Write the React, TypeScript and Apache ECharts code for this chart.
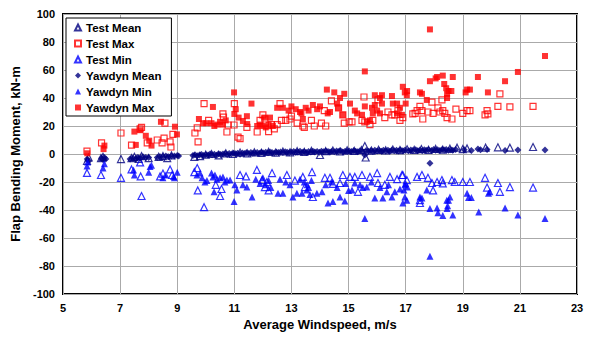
import React, { useEffect, useRef } from "react";
import * as echarts from "echarts";

const xTicks = [5, 7, 9, 11, 13, 15, 17, 19, 21, 23];
const X_OFFSET = 5;

const testMean: number[][] = [
  [5.84,-5],[5.9,-2.5],[6.33,-3],[6.4,-2],[7.03,-3.6],[7.4,-3],[7.5,-2],[7.65,-3.5],[7.75,-1.5],[8.0,-3],[8.35,-2],[8.5,-1.5],[8.65,-3],[8.8,-1],
  [9.6,-2],[9.8,-1.5],[10.0,-0.5],[10.2,0],[10.45,-1],[10.7,0.5],[10.95,0],[11.2,1],[11.45,0.5],[11.7,1.2],[11.95,0.8],[12.2,1.5],[12.45,1],[12.7,1.8],
  [12.95,1.2],[13.2,2],[13.45,1.5],[13.7,2.2],[14.0,-0.7],[14.2,2],[14.45,2.5],[14.7,1.8],[14.95,2.6],[15.2,2.2],[15.45,2.8],[15.57,5.7],[15.6,-2.5],
  [15.8,2.4],[16.05,3],[16.3,2.6],[16.55,3.2],[16.8,2.8],[17.05,3.4],[17.3,2.9],[17.55,3.5],[17.8,3],[18.05,3.6],[18.3,3.1],[18.55,3.8],
  [18.8,4.5],[19.0,3.5],[19.15,4],[19.8,4.5],[20.23,4.8],[20.65,4.5],[21.46,5]
];

const testMax: number[][] = [
  [5.84,2],[6.35,8],[7.03,15],[7.4,6.4],[7.7,18],[7.75,19],[7.95,8],[8.3,10],[8.47,8],[8.54,11.4],[8.57,22],[8.75,8.6],[8.78,5],[8.85,14],
  [9.62,15],[9.7,18.6],[9.73,8.6],[9.94,36],[10.1,24],[10.6,28.6],[10.62,26.4],[10.74,15.7],[10.78,20.7],[10.99,20.7],[11.0,36],[11.13,12],
  [11.2,11],[11.44,19],[11.8,15.7],[11.9,24],[12.0,28],[12.07,25],[12.2,16],[12.3,21],[12.4,18],[12.5,21],[12.6,36],[12.65,24],[12.8,24],
  [12.95,25],[13.0,27],[13.2,22],[13.4,20],[13.45,19],[13.7,24],[13.8,20],[14.05,22],[14.15,31],[14.2,20],[14.4,38],[14.65,33],[14.8,28],
  [14.85,22],[15.02,23],[15.12,23],[15.47,24],[15.54,40.7],[15.57,23],[15.75,21],[15.85,24],[16.03,38.6],[16.27,26],[16.38,30],[16.52,28],
  [16.62,28],[16.73,31],[16.8,24],[16.9,26],[17.25,28.6],[17.33,29],[17.4,31],[17.5,34],[17.57,31],[17.6,25],[17.78,30],[17.92,37],[17.96,29],
  [18.13,33],[18.2,30],[18.27,38.6],[18.3,31],[18.37,29],[18.45,26],[18.62,25],[18.76,32],[19.0,29],[19.15,31],[19.25,31],[19.78,28],
  [19.85,31],[19.88,28.6],[20.23,34],[20.3,43],[20.65,33.6],[21.46,34]
];

const testMin: number[][] = [
  [5.84,-13.5],[6.33,-15],[7.03,-17],[7.4,-11],[7.7,-6],[7.72,-16],[7.75,-30],[8.4,-16],[8.5,-14],[8.75,-11],[8.82,-15],
  [9.6,-13],[9.7,-10],[9.72,-26],[9.94,-38],[10.35,-22],[10.5,-30],[10.55,-25],[11.2,-15],[11.41,-16],[11.79,-11.4],[11.97,-18.6],
  [12.07,-23.6],[12.14,-20],[12.2,-26],[12.32,-13.6],[12.84,-15],[13.12,-19],[13.4,-16.4],[13.47,-23.6],[13.72,-12.9],[13.75,-30.7],
  [14.17,-17],[14.35,-17],[14.45,-21.4],[14.7,-20.7],[14.8,-15],[15.05,-16.4],[15.22,-16.4],[15.33,-27],[15.47,-15],[15.75,-16.4],
  [16.0,-13.6],[16.03,-20.7],[16.27,-22],[16.45,-16.4],[16.7,-18],[16.87,-15],[16.9,-15],[17.04,-18.6],[17.4,-16.4],[17.5,-33],[17.5,-35],
  [17.57,-15],[17.78,-17],[17.92,-20.7],[17.96,-26],[18.1,-20],[18.27,-18.6],[18.3,-21],[18.62,-18.6],[18.72,-20],[19.0,-20],[19.25,-20],
  [19.78,-17],[19.85,-24],[20.23,-20.7],[20.3,-27],[20.65,-23.6],[21.46,-24]
];

const yawdynMean: number[][] = [
  [5.85,-3.5],[5.9,-5],[6.35,-3],[6.4,-4],[6.45,-2.5],[6.5,-3.5],[7.35,-3.5],[7.45,-3],[7.55,-3.5],[7.6,-2.5],[7.7,-3],[7.8,-2],[7.9,-2.5],
  [8.0,-2.5],[8.3,-2.5],[8.4,-2],[8.5,-2],[8.6,-1.5],[8.7,-2],[8.8,-1.5],[8.9,-1.5],[9.0,-1],[9.05,-1.5],
  [9.55,-1],[9.62,-0.5],[9.7,-1.2],[9.78,-0.8],[9.85,-0.3],[9.92,-1],[10.0,-0.5],[10.08,-0.8],[10.15,0],[10.22,-0.6],[10.3,-0.2],[10.38,-0.9],
  [10.45,0.2],[10.52,-0.4],[10.6,0],[10.68,0.3],[10.75,-0.3],[10.82,0.4],[10.9,0],[10.98,0.6],[11.05,0.1],[11.12,0.5],[11.2,-0.2],[11.28,0.7],
  [11.35,0.3],[11.42,0.9],[11.5,0.4],[11.58,1],[11.65,0.5],[11.72,0.8],[11.8,1.1],[11.88,0.6],[11.95,1.2],[12.02,0.8],[12.1,1.3],[12.18,0.9],
  [12.25,1.4],[12.32,1],[12.4,0.7],[12.48,1.3],[12.55,1],[12.62,1.5],[12.7,1.1],[12.78,1.6],[12.85,1.2],[12.92,0.9],[13.0,1.4],[13.08,1.7],
  [13.15,1.2],[13.22,1.5],[13.3,1.9],[13.38,1.3],[13.45,1.6],[13.52,1.1],[13.6,1.8],[13.68,1.4],[13.75,2],[13.82,1.5],[13.9,1.7],[13.98,1.3],
  [14.05,1.9],[14.12,1.6],[14.2,2.1],[14.28,1.7],[14.35,1.4],[14.42,2],[14.5,1.6],[14.58,2.2],[14.65,1.8],[14.72,2.3],[14.8,1.5],[14.88,2],
  [14.95,1.7],[15.02,2.2],[15.1,1.8],[15.18,2.4],[15.25,2],[15.32,1.6],[15.4,2.3],[15.48,1.9],[15.57,-0.7],[15.62,2.5],[15.7,2],[15.78,2.4],
  [15.85,1.8],[15.92,2.6],[16.0,2.1],[16.08,2.5],[16.15,1.9],[16.22,2.7],[16.3,2.2],[16.38,2.6],[16.45,2],[16.52,2.8],[16.6,2.3],[16.68,2.7],
  [16.75,2.1],[16.82,2.9],[16.9,2.4],[16.98,2.8],[17.1,2.3],[17.18,2.9],[17.25,2.5],[17.35,3],[17.42,2.4],[17.5,2.8],[17.58,2.3],[17.65,3.1],
  [17.72,2.6],[17.8,3],[17.85,-6.6],[17.9,2.5],[17.98,3.2],[18.05,2.7],[18.12,3.1],[18.2,2.5],[18.28,3.3],[18.35,2.8],[18.42,3.2],[18.5,2.6],
  [18.58,3],[18.65,2.7],[18.75,3.2],[19.05,3],[19.3,2.5],[19.53,3.5],[19.62,3],[19.85,3.2],[20.48,2.5],[20.93,2.9],[21.88,2.9]
];

const yawdynMin: number[][] = [
  [5.84,-8.6],[5.86,-5.7],[6.4,-10],[6.45,-7],[7.47,-11.4],[7.5,-15],[8.0,-13],[8.05,-9],[8.1,-8],[8.5,-17],[8.6,-15],[8.87,-16],[8.9,-17],[9.0,-13],
  [9.69,-15],[9.8,-13.6],[9.87,-17],[9.97,-20],[10.04,-19],[10.2,-13.6],[10.25,-16.4],[10.29,-27],[10.32,-15],[10.39,-18],[10.5,-17],
  [10.6,-16.4],[10.67,-20],[10.74,-18.6],[10.85,-18.6],[10.99,-34],[11.02,-22],[11.09,-25.7],[11.3,-22],[11.44,-23.6],[11.62,-30.7],
  [11.75,-18],[11.9,-21],[12.0,-17],[12.1,-22],[12.2,-19],[12.28,-24],[12.53,-28],[12.6,-18],[12.7,-28],[12.8,-20],[12.95,-22],[13.05,-30.7],
  [13.19,-28],[13.3,-18],[13.37,-28],[13.45,-20],[13.54,-25.7],[13.55,-22],[13.6,-24],[13.65,-29],[13.7,-19],[13.89,-28],[14.07,-27],
  [14.2,-22],[14.28,-35],[14.4,-20],[14.45,-34],[14.6,-24],[14.7,-30.7],[14.87,-33.6],[14.9,-21],[15.0,-26],[15.12,-25.7],[15.22,-20.7],
  [15.4,-22],[15.5,-24],[15.57,-46],[15.64,-23.6],[15.8,-20],[15.92,-31.4],[16.1,-24],[16.2,-31.4],[16.34,-27],[16.4,-22],[16.52,-30.7],
  [16.62,-27],[16.8,-25],[16.9,-35],[16.94,-25.7],[16.97,-22],[16.97,-30.7],[17.0,-21],[17.04,-33],[17.06,-23.6],[17.5,-30.7],[17.57,-31.4],
  [17.74,-25.7],[17.85,-39],[17.85,-73],[18.1,-38.6],[18.13,-42],[18.3,-44],[18.44,-33],[18.45,-39],[18.47,-37],[18.5,-33],[18.55,-30.7],
  [18.65,-43.6],[19.15,-28],[19.2,-31],[19.3,-31],[19.56,-41.4],[19.9,-28],[19.95,-27],[20.48,-38.6],[20.93,-43.6],[21.88,-46]
];

const yawdynMax: number[][] = [
  [5.85,0.5],[6.42,3.5],[6.45,6],[7.5,16],[7.55,6.5],[7.7,17],[7.9,13],[8.02,9.5],[8.1,6],[8.43,23],[8.92,19.5],[8.99,14],
  [9.76,25],[9.9,22],[10.02,22],[10.2,22],[10.25,33.6],[10.3,20],[10.4,21],[10.5,23],[10.6,21],[10.7,24],[10.99,44],[11.0,28.6],[11.05,32],
  [11.15,26],[11.3,23.6],[11.44,27],[11.45,21.4],[11.6,36],[11.8,20],[11.9,21],[12.0,20],[12.05,26],[12.1,19],[12.2,21],[12.25,26],[12.35,20],
  [12.5,33],[12.7,33],[12.9,31],[13.0,34],[13.15,32],[13.3,30],[13.35,29],[13.4,25],[13.5,33],[13.6,31],[13.75,35],[13.9,32],[14.0,34],
  [14.24,46],[14.27,29],[14.35,30],[14.5,44],[14.6,36],[14.65,33],[14.7,40],[14.8,28],[14.85,43],[15.05,36],[15.22,31],[15.3,29],[15.47,28],
  [15.57,34],[15.57,59],[15.64,23],[15.75,24],[15.82,33],[15.85,29],[15.92,35],[15.92,42],[16.0,31],[16.1,29],[16.1,40],[16.17,36],[16.17,42],
  [16.52,41.4],[16.55,36],[16.7,36],[16.7,29],[16.8,33],[16.87,28],[16.9,48],[16.97,44],[17.04,42],[17.05,45],[17.0,36],[17.5,44],[17.57,43],
  [17.74,38.6],[17.85,52],[17.85,89],[18.05,54],[18.1,55],[18.3,56],[18.35,50],[18.42,47],[18.45,40],[18.45,43],[18.5,45],[18.6,45],[18.65,55],
  [19.1,44],[19.15,46],[19.25,46],[19.53,55],[19.88,44],[20.48,52],[20.93,58.6],[21.88,70]
];

const shift = (arr: number[][]) => arr.map(([x, y]) => [x - X_OFFSET, y]);

const FONT = "'Liberation Sans', Arial, sans-serif";

export default function App() {
  const ref = useRef<HTMLDivElement>(null);
  useEffect(() => {
    if (!ref.current) return;
    const chart = echarts.init(ref.current, undefined, { renderer: "svg" });
    const open = (color: string) => ({ color: "rgba(255,255,255,0)", borderColor: color, borderWidth: 1.2 });
    chart.setOption({
      animation: false,
      backgroundColor: "#ffffff",
      grid: {
        left: 63, right: 12, top: 14, bottom: 45,
        show: true, borderColor: "#000", borderWidth: 2, backgroundColor: "transparent",
      },
      legend: {
        orient: "vertical",
        left: 66,
        top: 18,
        padding: [3, 10, 2, 8],
        itemWidth: 6,
        itemHeight: 6,
        itemGap: 3,
        backgroundColor: "#fff",
        borderColor: "#000",
        borderWidth: 1,
        borderRadius: 0,
        textStyle: { fontFamily: FONT, fontSize: 11.5, fontWeight: "bold", color: "#000", lineHeight: 13 },
        data: ["Test Mean", "Test Max", "Test Min", "Yawdyn Mean", "Yawdyn Min", "Yawdyn Max"],
      },
      xAxis: {
        type: "value",
        min: xTicks[0] - X_OFFSET,
        max: xTicks[xTicks.length - 1] - X_OFFSET,
        interval: 2,
        name: "Average Windspeed, m/s",
        nameLocation: "middle",
        nameGap: 19,
        nameTextStyle: { fontFamily: FONT, fontSize: 13, fontWeight: "bold", color: "#000" },
        axisLine: { show: false },
        axisTick: { show: false },
        axisLabel: {
          fontFamily: FONT, fontSize: 11, fontWeight: "bold", color: "#000", margin: 8,
          formatter: (v: number) => String(v + X_OFFSET),
        },
        splitLine: { show: true, lineStyle: { color: "#aaaaaa", width: 1 } },
      },
      yAxis: {
        type: "value",
        min: -100,
        max: 100,
        interval: 20,
        name: "Flap Bending Moment, kN-m",
        nameLocation: "middle",
        nameGap: 31,
        nameTextStyle: { fontFamily: FONT, fontSize: 13, fontWeight: "bold", color: "#000" },
        axisLine: { show: false },
        axisTick: { show: false },
        axisLabel: { fontFamily: FONT, fontSize: 11, fontWeight: "bold", color: "#000", margin: 8 },
        splitLine: { show: true, lineStyle: { color: "#aaaaaa", width: 1 } },
      },
      series: [
        { name: "Test Mean", type: "scatter", symbol: "triangle", symbolSize: 7, itemStyle: open("#000080"), data: shift(testMean) },
        { name: "Test Max", type: "scatter", symbol: "rect", symbolSize: 6, itemStyle: open("#ff0000"), data: shift(testMax) },
        { name: "Test Min", type: "scatter", symbol: "triangle", symbolSize: 7, itemStyle: open("#0000ff"), data: shift(testMin) },
        { name: "Yawdyn Mean", type: "scatter", symbol: "diamond", symbolSize: 7, itemStyle: { color: "#000080" }, data: shift(yawdynMean) },
        { name: "Yawdyn Min", type: "scatter", symbol: "triangle", symbolSize: 7, itemStyle: { color: "#0000ff" }, data: shift(yawdynMin) },
        { name: "Yawdyn Max", type: "scatter", symbol: "rect", symbolSize: 6, itemStyle: { color: "#ff0000" }, data: shift(yawdynMax) },
      ],
    });
    return () => chart.dispose();
  }, []);
  return (
    <div
      ref={ref}
      style={{ position: "fixed", left: 0, top: 0, width: 589, height: 339, background: "#fff" }}
    />
  );
}
